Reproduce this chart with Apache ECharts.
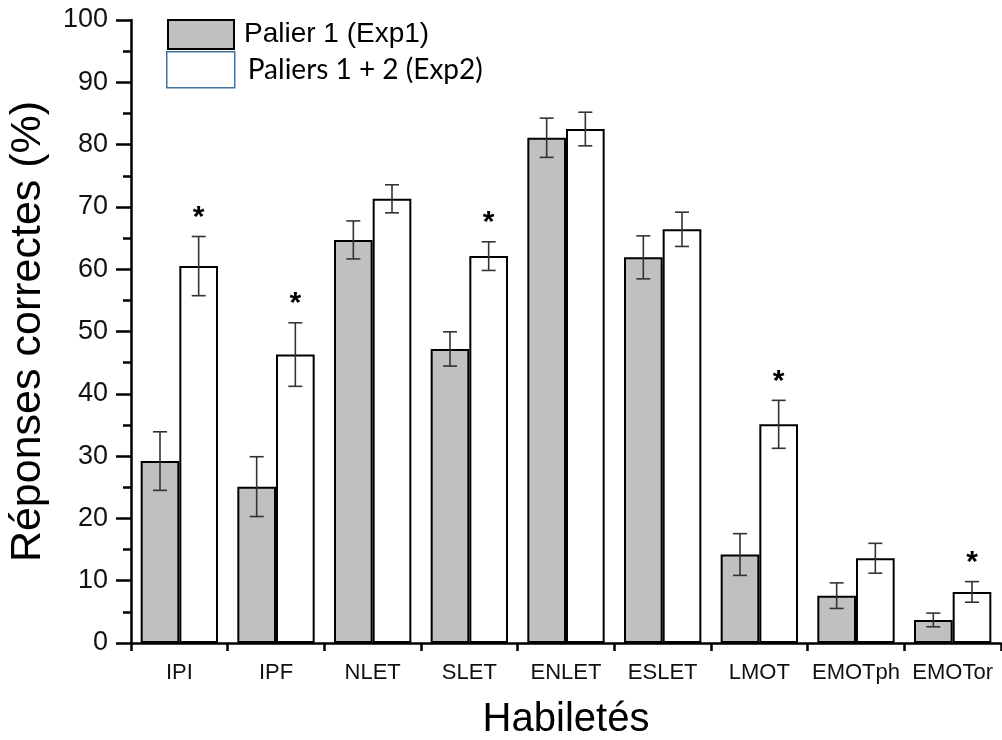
<!DOCTYPE html>
<html>
<head>
<meta charset="utf-8">
<style>
html,body{margin:0;padding:0;background:#fff;}
#chart{width:1002px;height:740px;}
</style>
<script src="https://cdn.jsdelivr.net/npm/echarts@6/dist/echarts.min.js"></script>
</head>
<body>
<div id="chart"></div>
<script>
const categories = ['IPI','IPF','NLET','SLET','ENLET','ESLET','LMOT','EMOTph','EMOTor'];
const exp1Values = [29.2, 25.1, 64.7, 47.2, 81.1, 61.9, 14.2, 7.6, 3.7];
const exp1Errors = [4.7, 4.8, 3.05, 2.75, 3.15, 3.45, 3.35, 2.05, 1.1];
const exp2Values = [60.5, 46.3, 71.3, 62.1, 82.5, 66.4, 35.1, 13.6, 8.2];
const exp2Errors = [4.75, 5.1, 2.25, 2.3, 2.7, 2.75, 3.85, 2.4, 1.65];
const significant = [true, true, false, true, false, false, true, false, true];
const yTicks = [0,10,20,30,40,50,60,70,80,90,100];

const name1 = 'Palier 1 (Exp1)';
const name2 = 'Paliers 1 + 2 (Exp2)';
const ARIAL = '"Liberation Sans", Arial, sans-serif';

function errData(vals, errs){ return vals.map((v,i)=>[i, v, errs[i]]); }

function errRender(side){
  return function(params, api){
    const idx = api.value(0), m = api.value(1), e = api.value(2);
    const band = api.size([1,0])[0];
    const cx = api.coord([idx, m])[0] + side*band*0.2;
    const yTop = api.coord([idx, m+e])[1];
    const yBot = api.coord([idx, m-e])[1];
    const cap = 7;
    const st = {stroke:'#333', lineWidth:1.6};
    return {type:'group', children:[
      {type:'line', shape:{x1:cx,y1:yTop,x2:cx,y2:yBot}, style:st},
      {type:'line', shape:{x1:cx-cap,y1:yTop,x2:cx+cap,y2:yTop}, style:st},
      {type:'line', shape:{x1:cx-cap,y1:yBot,x2:cx+cap,y2:yBot}, style:st}
    ]};
  };
}

const starData = [];
significant.forEach((s,i)=>{ if(s) starData.push([i, exp2Values[i] + exp2Errors[i]]); });

const chart = echarts.init(document.getElementById('chart'), null, {renderer:'canvas'});
chart.setOption({
  animation:false,
  backgroundColor:'#fff',
  grid:{left:131, right:1, top:20, bottom:97, containLabel:false, outerBoundsMode:'none'},
  legend:[
    {data:[{name:name1, textStyle:{fontFamily:'Liberation Sans', fontSize:28, color:'#000'}}],
     left:167, top:19, padding:0, itemWidth:66, itemHeight:29, icon:'rect',
     selectedMode:false,
     textStyle:{fontFamily:'Liberation Sans', fontSize:28, color:'#000', padding:[3,0,0,5]}},
    {data:[{name:name2, itemStyle:{color:'#fff', borderColor:'#41719c', borderWidth:1.5},
            textStyle:{fontFamily:'Lato', fontSize:28, color:'#000'}}],
     left:166, top:51, padding:0, itemWidth:68, itemHeight:36, icon:'rect',
     selectedMode:false,
     textStyle:{fontFamily:'Lato', fontSize:28, color:'#000', padding:[8,0,0,8]}}
  ],
  xAxis:[
    {type:'category', data:categories, position:'bottom',
     axisLine:{lineStyle:{color:'#000', width:2.5}},
     axisTick:{alignWithLabel:true, length:14, lineStyle:{color:'#000', width:2.5}},
     axisLabel:{fontFamily:ARIAL, fontSize:22, color:'#111', margin:19, interval:0},
     name:'Habiletés', nameLocation:'middle', nameGap:57,
     nameTextStyle:{fontFamily:ARIAL, fontSize:40, color:'#000'}},
    {type:'category', data:categories, position:'bottom', gridIndex:0,
     axisLine:{show:false},
     axisTick:{show:true, length:8, lineStyle:{color:'#000', width:2.5}},
     axisLabel:{show:false}}
  ],
  yAxis:{type:'value', min:0, max:100, interval:10,
    axisLine:{show:true, lineStyle:{color:'#000', width:2.5}},
    axisTick:{show:true, length:15, lineStyle:{color:'#000', width:2.5}},
    minorTick:{show:true, splitNumber:2, length:8, lineStyle:{color:'#000', width:2.5}},
    splitLine:{show:false},
    axisLabel:{fontFamily:ARIAL, fontSize:27, color:'#111', margin:23,
      formatter:v=> yTicks.indexOf(v)>=0 ? String(v) : ''},
    name:'Réponses correctes (%)', nameLocation:'middle', nameGap:81,
    nameTextStyle:{fontFamily:ARIAL, fontSize:43, color:'#000'}
  },
  series:[
    {name:name1, type:'bar', data:exp1Values, barWidth:'40%', barGap:'0%',
     itemStyle:{color:'#c0c0c0', borderColor:'#000', borderWidth:2}},
    {name:name2, type:'bar', data:exp2Values, barWidth:'40%', barGap:'0%',
     itemStyle:{color:'#fff', borderColor:'#000', borderWidth:2}},
    {type:'custom', renderItem:errRender(-1), data:errData(exp1Values, exp1Errors),
     encode:{x:0, y:1}, z:5, silent:true},
    {type:'custom', renderItem:errRender(1), data:errData(exp2Values, exp2Errors),
     encode:{x:0, y:1}, z:5, silent:true},
    {type:'custom', data:starData, encode:{x:0, y:1}, z:6, silent:true,
     renderItem:function(params, api){
       const idx = api.value(0), hi = api.value(1);
       const band = api.size([1,0])[0];
       const p = api.coord([idx, hi]);
       return {type:'text', x:p[0] + band*0.2, y:p[1] - 4,
         style:{text:'*', fill:'#000', font:'bold 30px ' + ARIAL,
                textAlign:'center', textVerticalAlign:'bottom'}};
     }}
  ]
});
</script>
</body>
</html>
